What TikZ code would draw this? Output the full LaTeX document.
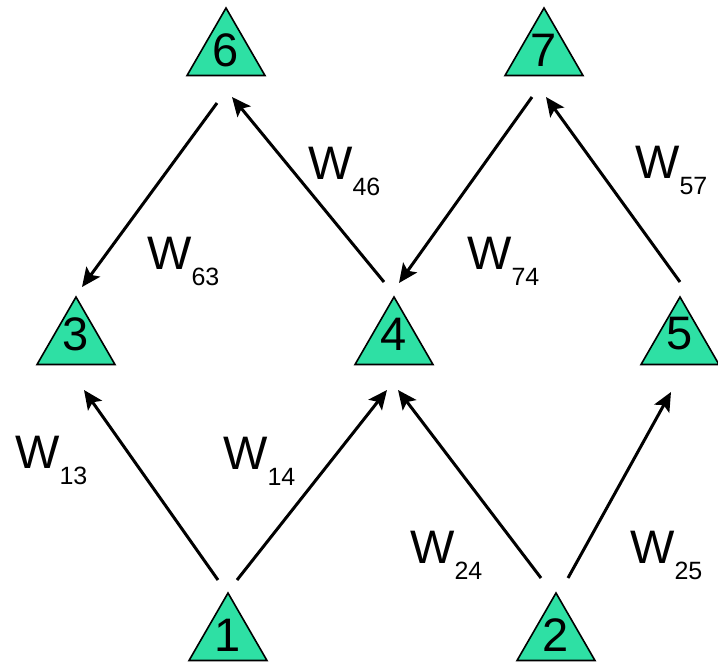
\documentclass[tikz,border=0pt]{standalone}
\usepackage{fontspec}
\setmainfont{Liberation Sans}
\usetikzlibrary{shapes.geometric,arrows.meta}
\definecolor{trifill}{RGB}{46,224,164}
\tikzset{
  tri/.style={regular polygon, regular polygon sides=3, minimum size=90pt, inner sep=0pt,
              draw=black, line width=1.6pt, fill=trifill},
  digit/.style={inner sep=0pt, font=\fontsize{47}{47}\selectfont},
  lab/.style={inner sep=0pt, anchor=base west, font=\fontsize{47}{47}\selectfont},
  arr/.style={line width=3pt, -{Stealth[length=19pt,width=17pt,inset=4pt]}}
}
\newcommand{\wlab}[1]{W\raisebox{-16pt}{\fontsize{25}{25}\selectfont #1}}
\begin{document}
\begin{tikzpicture}[x=1pt,y=-1pt]
\clip (0,0) rectangle (718,662);
\fill[white] (0,0) rectangle (718,662);
% triangles
\node[tri] (n6) at (226,53) {};
\node[tri] (n7) at (544,53) {};
\node[tri] (n3) at (76,342) {};
\node[tri] (n4) at (394,342) {};
\node[tri] (n5) at (680,342) {};
\node[tri] (n1) at (228,638) {};
\node[tri] (n2) at (556,638) {};
% digits
\node[digit] (d6) at ([yshift=3pt]n6.center) {6};
\node[digit] (d7) at ([yshift=3pt]n7.center) {7};
\node[digit] (d3) at ([yshift=8pt]n3.center) {3};
\node[digit] (d4) at ([yshift=8pt]n4.center) {4};
\node[digit] (d5) at ([yshift=8pt]n5.center) {5};
\node[digit] (d1) at ([yshift=3pt]n1.center) {1};
\node[digit] (d2) at ([yshift=3pt]n2.center) {2};
% arrow ends
\coordinate (s63) at (217,103); \coordinate (e63) at (82,287);
\coordinate (s46) at (384,282); \coordinate (e46) at (232,97);
\coordinate (s74) at (532,97);  \coordinate (e74) at (399,283);
\coordinate (s57) at (680,282); \coordinate (e57) at (546,97);
\coordinate (s13) at (218,580); \coordinate (e13) at (84,390);
\coordinate (s14) at (237,580); \coordinate (e14) at (387,390);
\coordinate (s24) at (541,578); \coordinate (e24) at (398,390);
\coordinate (s25) at (568,578); \coordinate (e25) at (671,392);
\draw[arr] (s63) -- (e63);
\draw[arr] (s46) -- (e46);
\draw[arr] (s74) -- (e74);
\draw[arr] (s57) -- (e57);
\draw[arr] (s13) -- (e13);
\draw[arr] (s14) -- (e14);
\draw[arr] (s24) -- (e24);
\draw[arr] (s25) -- (e25);
% labels
\node[lab] (w63) at (147,269) {\wlab{63}};
\node[lab] (w46) at (308,179) {\wlab{46}};
\node[lab] (w74) at (467,269) {\wlab{74}};
\node[lab] (w57) at (635,178) {\wlab{57}};
\node[lab] (w13) at (15,468) {\wlab{13}};
\node[lab] (w14) at (223,469) {\wlab{14}};
\node[lab] (w24) at (410,563) {\wlab{24}};
\node[lab] (w25) at (630,563) {\wlab{25}};
\end{tikzpicture}
\end{document}
